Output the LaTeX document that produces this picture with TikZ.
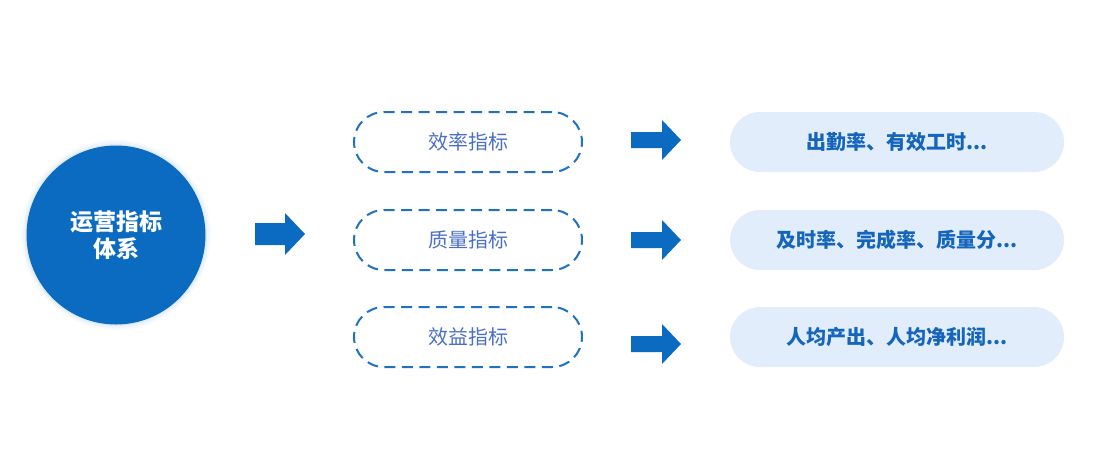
\documentclass[tikz,border=0pt]{standalone}
\usepackage{fontspec}
\newfontfamily\cjk{Noto Sans CJK SC}
\definecolor{mainblue}{HTML}{0B6BC1}
\definecolor{dashblue}{HTML}{1F72C2}
\definecolor{txtblue}{HTML}{4A70C4}
\definecolor{lightfill}{HTML}{E2EDFB}
\definecolor{boldblue}{HTML}{1565BD}
\definecolor{glow}{HTML}{BFD6F2}
\tikzset{
  dashbox/.style={draw=dashblue, line width=2pt, dash pattern=on 11pt off 6.5pt,
    rounded corners=30pt, minimum width=228pt, minimum height=60pt,
    text=txtblue, font=\cjk\fontsize{20pt}{23pt}\selectfont, inner sep=0pt},
  resbox/.style={fill=lightfill, rounded corners=30pt, minimum width=334pt, minimum height=60pt,
    text=boldblue, font=\cjk\bfseries\fontsize{20pt}{23pt}\selectfont, inner sep=0pt},
  hub/.style={circle, fill=mainblue, minimum size=179pt, inner sep=0pt, text=white,
    align=center, font=\cjk\bfseries\fontsize{23pt}{27pt}\selectfont},
  blockarrow/.style={fill=mainblue}
}
\begin{document}
\begin{tikzpicture}[x=1pt,y=-1pt]
\useasboundingbox (0,0) rectangle (1102,475);
% glow
\foreach \r/\o in {95/0.10,93/0.18,91/0.3}{
  \fill[glow, opacity=\o] (116,235) circle (\r);
}
\node[hub] (hub) at (116,235) {运营指标\\体系};
% big arrow
\coordinate (a0) at (255,234);
\fill[blockarrow] (a0) ++(0,-11) -- ++(30,0) -- ++(0,-10) -- ++(20,21) -- ++(-20,21) -- ++(0,-10) -- ++(-30,0) -- cycle;
% dashed boxes
\node[dashbox] (d1) at (468,142) {效率指标};
\node[dashbox] (d2) at (468,240) {质量指标};
\node[dashbox] (d3) at (468,337) {效益指标};
% small arrows
\foreach \n/\y in {s1/140,s2/240,s3/344}{
  \coordinate (\n) at (631,\y);
  \fill[blockarrow] (\n) ++(0,-8) -- ++(31,0) -- ++(0,-12) -- ++(19,20) -- ++(-19,20) -- ++(0,-12) -- ++(-31,0) -- cycle;
}
% result boxes
\node[resbox] (r1) at (897,142) {出勤率、有效工时...};
\node[resbox] (r2) at (897,240) {及时率、完成率、质量分...};
\node[resbox] (r3) at (897,337) {人均产出、人均净利润...};
\end{tikzpicture}
\end{document}
